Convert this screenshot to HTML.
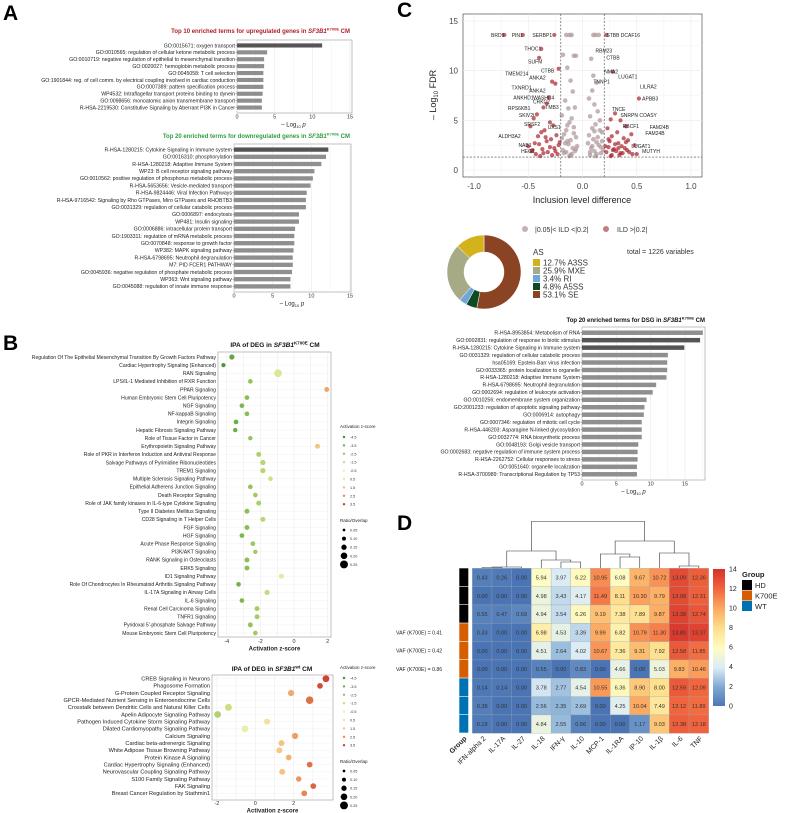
<!DOCTYPE html>
<html><head><meta charset="utf-8">
<style>
html,body{margin:0;padding:0;background:#fff;}
svg{display:block;font-family:"Liberation Sans",Arial,sans-serif;}
</style></head>
<body>
<svg id="fig" width="790" height="813" viewBox="0 0 790 813" xmlns="http://www.w3.org/2000/svg">
<rect width="790" height="813" fill="#fff"/>
<text x="3" y="20" font-size="21" font-weight="bold">A</text>
<text x="3" y="350" font-size="21" font-weight="bold">B</text>
<text x="397" y="17" font-size="21" font-weight="bold">C</text>
<text x="397" y="530" font-size="21" font-weight="bold">D</text>

<text x="350" y="33" font-size="6" font-weight="bold" fill="#b0202a" text-anchor="end">Top 10 enriched terms for upregulated genes in <tspan font-style="italic">SF3B1</tspan><tspan font-size="4" dy="-2.5">K700E</tspan><tspan dy="2.5"> CM</tspan></text>
<text x="350" y="138" font-size="6" font-weight="bold" fill="#2e9e3e" text-anchor="end">Top 20 enriched terms for downregulated genes in <tspan font-style="italic">SF3B1</tspan><tspan font-size="4" dy="-2.5">K700E</tspan><tspan dy="2.5"> CM</tspan></text>
<text x="705" y="322" font-size="6" font-weight="bold" fill="#111" text-anchor="end">Top 20 enriched terms for DSG in <tspan font-style="italic">SF3B1</tspan><tspan font-size="4" dy="-2.5">K700E</tspan><tspan dy="2.5"> CM</tspan></text>
<text x="275" y="347" font-size="6.5" font-weight="bold" fill="#111" text-anchor="middle">IPA of DEG in <tspan font-style="italic">SF3B1</tspan><tspan font-size="4.5" dy="-2.5">K700E</tspan><tspan dy="2.5"> CM</tspan></text>
<text x="272" y="671" font-size="6.5" font-weight="bold" fill="#111" text-anchor="middle">IPA of DEG in <tspan font-style="italic">SF3B1</tspan><tspan font-size="4.5" dy="-2.5">wt</tspan><tspan dy="2.5"> CM</tspan></text>
<g id="root"></g>
</svg>
<script>
// ---------- DATA ----------
const a1Labels=["GO:0015671: oxygen transport","GO:0010565: regulation of cellular ketone metabolic process","GO:0010719: negative regulation of epithelial to mesenchymal transition","GO:0020027: hemoglobin metabolic process","GO:0045058: T cell selection","GO:1901844: reg. of cell comm. by electrical coupling involved in cardiac conduction","GO:0007389: pattern specification process","WP4532: Intraflagellar transport proteins binding to dynein","GO:0098656: monoatomic anion transmembrane transport","R-HSA-2219530: Constitutive Signaling by Aberrant PI3K in Cancer"];
const a1Values=[11.3,4.0,3.6,3.6,3.5,3.5,3.5,3.4,3.3,3.3];
const a2Labels=["R-HSA-1280215: Cytokine Signaling in Immune system","GO:0016310: phosphorylation","R-HSA-1280218: Adaptive Immune System","WP23: B cell receptor signaling pathway","GO:0010562: positive regulation of phosphorus metabolic process","R-HSA-5653656: Vesicle-mediated transport","R-HSA-9824446: Viral Infection Pathways","R-HSA-9716542: Signaling by Rho GTPases, Miro GTPases and RHOBTB3","GO:0031329: regulation of cellular catabolic process","GO:0006897: endocytosis","WP481: Insulin signaling","GO:0006886: intracellular protein transport","GO:1903311: regulation of mRNA metabolic process","GO:0070848: response to growth factor","WP382: MAPK signaling pathway","R-HSA-6798695: Neutrophil degranulation","M7: PID FCER1 PATHWAY","GO:0045936: negative regulation of phosphate metabolic process","WP363: Wnt signaling pathway","GO:0045088: regulation of innate immune response"];
const a2Values=[12.2,11.9,11.3,10.4,10.2,9.9,9.4,9.3,9.3,8.4,8.4,7.9,7.8,7.8,7.7,7.6,7.6,7.5,7.3,7.3];
const cbLabels=["R-HSA-8953854: Metabolism of RNA","GO:0002831: regulation of response to biotic stimulus","R-HSA-1280215: Cytokine Signaling in Immune system","GO:0031329: regulation of cellular catabolic process","hsa05169: Epstein-Barr virus infection","GO:0033365: protein localization to organelle","R-HSA-1280218: Adaptive Immune System","R-HSA-6798695: Neutrophil degranulation","GO:0002694: regulation of leukocyte activation","GO:0010256: endomembrane system organization","GO:2001233: regulation of apoptotic signaling pathway","GO:0006914: autophagy","GO:0007346: regulation of mitotic cell cycle","R-HSA-446203: Asparagine N-linked glycosylation","GO:0032774: RNA biosynthetic process","GO:0048193: Golgi vesicle transport","GO:0002683: negative regulation of immune system process","R-HSA-2262752: Cellular responses to stress","GO:0051640: organelle localization","R-HSA-3700989: Transcriptional Regulation by TP53"];
const cbValues=[17.6,17.2,14.9,12.5,12.4,12.4,12.3,10.8,10.3,9.4,9.1,9.0,8.7,8.7,8.7,8.2,8.1,8.1,8.0,8.0];
const xTicks=[0,5,10,15];

const b1Labels=["Regulation Of The Epithelial Mesenchymal Transition By Growth Factors Pathway","Cardiac Hypertrophy Signaling (Enhanced)","RAN Signaling","LPS/IL-1 Mediated Inhibition of RXR Function","PPAR Signaling","Human Embryonic Stem Cell Pluripotency","NGF Signaling","NF-kappaB Signaling","Integrin Signaling","Hepatic Fibrosis Signaling Pathway","Role of Tissue Factor in Cancer","Erythropoietin Signaling Pathway","Role of PKR in Interferon Induction and Antiviral Response","Salvage Pathways of Pyrimidine Ribonucleotides","TREM1 Signaling","Multiple Sclerosis Signaling Pathway","Epithelial Adherens Junction Signaling","Death Receptor Signaling","Role of JAK family kinases in IL-6-type Cytokine Signaling","Type II Diabetes Mellitus Signaling","CD28 Signaling in T Helper Cells","FGF Signaling","HGF Signaling","Acute Phase Response Signaling","PI3K/AKT Signaling","RANK Signaling in Osteoclasts","ERK5 Signaling","ID1 Signaling Pathway","Role Of Chondrocytes In Rheumatoid Arthritis Signaling Pathway","IL-17A Signaling in Airway Cells","IL-6 Signaling","Renal Cell Carcinoma Signaling","TNFR1 Signaling","Pyridoxal 5'-phosphate Salvage Pathway","Mouse Embryonic Stem Cell Pluripotency"];
const b1Z=[-3.7,-4.2,-0.95,-2.6,1.95,-2.8,-3.1,-2.8,-3.45,-3.5,-2.6,1.4,-2.1,-1.85,-1.85,-1.4,-2.6,-2.3,-2.1,-2.8,-1.85,-2.8,-3.1,-2.45,-2.3,-2.8,-2.8,-0.75,-3.3,-1.6,-3.1,-2.2,-2.2,-2.6,-2.3];
const b1Ratio=[0.10,0.06,0.20,0.08,0.09,0.08,0.08,0.08,0.08,0.07,0.07,0.09,0.09,0.10,0.10,0.08,0.08,0.08,0.09,0.09,0.09,0.09,0.08,0.08,0.07,0.09,0.09,0.10,0.08,0.10,0.08,0.09,0.09,0.09,0.08];
const b2Labels=["CREB Signaling in Neurons","Phagosome Formation","G-Protein Coupled Receptor Signaling","GPCR-Mediated Nutrient Sensing in Enteroendocrine Cells","Crosstalk between Dendritic Cells and Natural Killer Cells","Apelin Adipocyte Signaling Pathway","Pathogen Induced Cytokine Storm Signaling Pathway","Dilated Cardiomyopathy Signaling Pathway","Calcium Signaling","Cardiac beta-adrenergic Signaling","White Adipose Tissue Browning Pathway","Protein Kinase A Signaling","Cardiac Hypertrophy Signaling (Enhanced)","Neurovascular Coupling Signaling Pathway","S100 Family Signaling Pathway","FAK Signaling","Breast Cancer Regulation by Stathmin1"];
const b2Z=[3.68,3.37,1.86,2.83,-1.4,-1.96,0.61,-0.54,2.07,1.36,1.25,1.74,2.83,1.4,2.26,3.02,2.55];
const b2Ratio=[0.16,0.12,0.14,0.19,0.17,0.16,0.13,0.16,0.14,0.13,0.13,0.12,0.12,0.13,0.11,0.12,0.12];
const zLegend=[-4.5,-3.5,-2.5,-1.5,-0.5,0.5,1.5,2.5,3.5];
const ratioLegend=[0.05,0.10,0.15,0.20,0.25];

const volGrayX=[-0.15,-0.12,-0.1,-0.08,-0.18,-0.06,-0.14,-0.11,-0.09,-0.16,-0.07,-0.13,-0.19,-0.1,-0.12,-0.08,-0.15,-0.17,-0.06,-0.11,-0.13,-0.09,-0.07,-0.1,-0.12,-0.14,-0.05,-0.18,-0.16,-0.19,-0.08,-0.14,-0.17,-0.11,-0.06,-0.15,0.1,0.12,0.15,0.08,0.1,0.13,0.09,0.06,0.11,0.14,0.07,0.16,0.12,0.09,0.18,0.06,0.1,0.13,0.15,0.08,0.11,0.17,0.07,0.12,0.05,0.19,0.14,0.16,0.09,0.18,0.07,0.13,0.11,0.17];
const volGrayY=[13.6,13.6,13.6,11.5,11.6,11.5,10.3,9.0,7.9,7.0,6.3,6.2,5.5,5.2,4.8,4.3,4.0,3.6,3.3,3.0,2.6,2.2,1.9,1.6,1.4,2.9,2.4,2.0,2.7,3.2,3.7,4.5,1.7,1.5,2.1,1.8,13.6,13.6,13.6,11.2,9.5,8.8,8.0,7.2,6.6,5.9,5.4,5.0,4.6,4.2,3.8,3.5,3.1,2.8,2.5,2.2,1.9,1.7,1.5,1.4,2.7,2.0,3.3,4.0,2.4,2.9,1.8,1.6,3.9,2.3];
const volRedX=[-0.72,-0.55,-0.26,-0.38,-0.4,-0.22,-0.28,-0.25,-0.31,-0.33,-0.36,-0.42,-0.45,-0.48,-0.3,-0.27,-0.35,-0.38,-0.41,-0.24,-0.29,-0.33,-0.44,-0.5,-0.22,-0.26,-0.37,-0.47,-0.32,-0.23,-0.28,-0.4,-0.34,-0.25,-0.43,-0.21,-0.3,-0.36,-0.46,-0.39,0.22,0.28,0.52,0.3,0.26,0.35,0.4,0.23,0.45,0.32,0.27,0.38,0.42,0.25,0.33,0.48,0.36,0.24,0.29,0.41,0.31,0.22,0.37,0.46,0.27,0.34,0.39,0.24,0.3,0.43,0.26,0.35,0.5,0.21,0.28,0.33,0.4];
const volRedY=[13.6,13.6,13.6,12.2,11.3,10.2,8.9,8.7,7.3,6.7,6.3,5.6,5.2,4.4,4.8,4.5,4.0,3.8,3.4,3.5,3.1,2.9,2.7,2.4,2.5,2.2,2.1,1.9,1.8,1.6,1.5,2.6,3.3,1.9,1.6,2.8,2.3,1.7,2.0,1.4,13.6,9.9,7.2,5.7,5.1,5.0,4.4,4.2,3.6,3.8,3.4,3.2,3.0,2.9,2.7,2.5,2.4,2.3,2.1,2.0,1.9,1.8,1.7,1.6,1.5,1.5,2.2,3.1,2.6,1.8,1.4,1.7,1.6,2.4,2.0,2.2,2.8];
const volXTicks=[-1.0,-0.5,0.0,0.5,1.0];
const volYTicks=[0,5,10,15];
const volLabelText=["BRD9","PIN1","SERBP1","STBB DCAF16","THOC1","RBM23","CTBB","SUFM","TMEM214","ANKA2","CTBB","NMA2","LUGAT1","TNNP1","LILRA2","TXNRD1","ANKA2","ANKHD1","WASHC4","CRKC2","APBB3","TMB3","RPS6KB1","TNCE","SKIV2L","SNRPN COASY","SRSF2","UXS1","RBCF1","FAM24B","FAM24B","ALDH3A2","NAB1","LUGAT1","HEG1","MUTYH"];
const volLabelX=[-0.72,-0.55,-0.28,0.22,-0.38,0.12,0.22,-0.37,-0.5,-0.34,-0.26,0.2,0.33,0.1,0.53,-0.47,-0.34,-0.45,-0.26,-0.3,0.55,-0.22,-0.48,0.27,-0.43,0.35,-0.39,-0.2,0.37,0.62,0.58,-0.57,-0.47,0.45,-0.44,0.55];
const volLabelY=[13.6,13.6,13.6,13.6,12.2,12.0,11.3,10.9,9.7,9.3,10.0,9.9,9.4,8.9,8.4,8.3,8.0,7.3,7.3,6.9,7.2,6.3,6.2,6.1,5.5,5.5,4.6,4.3,4.4,4.3,3.7,3.4,2.5,2.4,1.9,1.9];

const asPct=[53.1,4.8,3.4,25.9,12.7];
const asNames=["SE","A5SS","RI","MXE","A3SS"];

const hmCols=["IFN-alpha 2","IL-17A","IL-27","IL-18","IFN-γ","IL-10","MCP-1","IL-1RA","IP-10","IL-1β","IL-6","TNF"];
const hmGroups=["HD","HD","HD","K700E","K700E","K700E","WT","WT","WT"];
const hmRow1=[0.43,0.26,0.00,5.94,3.97,6.22,10.95,6.08,9.67,10.72,13.09,12.36];
const hmRow2=[0.00,0.00,0.00,4.98,3.43,4.17,11.49,8.11,10.30,9.79,13.08,12.31];
const hmRow3=[0.55,0.47,0.69,4.94,3.54,6.26,9.19,7.38,7.89,9.87,13.38,12.74];
const hmRow4=[0.33,0.00,0.00,6.98,4.53,3.39,9.99,6.82,10.79,11.30,13.80,13.37];
const hmRow5=[0.00,0.00,0.00,4.51,2.64,4.02,10.67,7.36,9.31,7.92,12.58,11.85];
const hmRow6=[0.00,0.00,0.00,0.55,0.00,0.83,0.00,4.66,0.00,5.03,9.83,10.46];
const hmRow7=[0.14,0.14,0.00,3.78,2.77,4.54,10.55,6.36,8.90,8.00,12.59,12.09];
const hmRow8=[0.38,0.00,0.00,2.56,2.35,2.69,0.00,4.25,10.04,7.49,12.12,11.89];
const hmRow9=[0.19,0.00,0.00,4.84,2.55,0.56,0.00,0.00,1.17,9.03,12.38,12.18];
const hmVafLabels=["VAF (K700E) = 0.41","VAF (K700E) = 0.42","VAF (K700E) = 0.86"];
const cbarTicks=[0,2,4,6,8,10,12,14];

// ---------- HELPERS ----------
const NS="http://www.w3.org/2000/svg";
const root=document.getElementById('root');
function mk(tag,attrs,parent){const e=document.createElementNS(NS,tag);for(const k in attrs)e.setAttribute(k,attrs[k]);(parent||root).appendChild(e);return e;}
function lerpColor(stops,v){
  if(v<=stops[0][0])return stops[0][1];
  for(let i=1;i<stops.length;i++){if(v<=stops[i][0]){const [a,ca]=stops[i-1],[b,cb]=stops[i];const t=(v-a)/(b-a);
    const p=h=>[1,3,5].map(j=>parseInt(h.substr(j,2),16));const A=p(ca),B=p(cb);
    return 'rgb('+A.map((x,k)=>Math.round(x+(B[k]-x)*t)).join(',')+')';}}
  return stops[stops.length-1][1];}
const zStops=[[-4.5,"#3f8f34"],[-3.5,"#6aae45"],[-2.5,"#97c65a"],[-1.5,"#c6de7e"],[-0.5,"#ecf0a8"],[0.5,"#f6e4a4"],[1.5,"#f2c07a"],[2.5,"#e88752"],[3.5,"#cf4431"]];
const hmStops=[[0,"#4a74b4"],[2,"#7ea8d2"],[4,"#dcecf4"],[6,"#fefcc4"],[8,"#fee08e"],[10,"#fcab62"],[12,"#f2683f"],[14,"#d7342b"]];

// ---------- BAR CHARTS ----------
function barChart(labels,values,darkN,bx0,bx1,by0,by1,zeroX,px15,tickY,prefix){
  const sx=v=>zeroX+(px15-zeroX)*v/15;
  const box=mk('rect',{x:bx0,y:by0,width:bx1-bx0,height:by1-by0,fill:'#fff',stroke:'#999','stroke-width':0.6});
  
  
  for(let t=0;t<=17.5;t+=2.5){const x=sx(t);if(x>bx1)break;const g=mk('line',{x1:x,x2:x,y1:by0,y2:by1,stroke:t%5===0?'#e4e4e4':'#f0f0f0','stroke-width':0.5});
    
    }
  const n=labels.length,band=(by1-by0-4)/n;
  labels.forEach((lab,i)=>{
    const cy=by0+2+band*(i+0.5);
    const r=mk('rect',{x:zeroX,y:cy-band*0.3,width:sx(values[i])-zeroX,height:band*0.6,fill:i<darkN[1]&&i>=darkN[0]?'#555':'#8f8f8f'});
    
    
    const t=mk('text',{x:bx0-2,y:cy+1.8,'font-size':5.2,'text-anchor':'end',fill:'#222'});t.textContent=lab;
    
    
    const tk=mk('line',{x1:bx0-1.5,x2:bx0,y1:cy,y2:cy,stroke:'#555','stroke-width':0.4});
    
    
  });
  xTicks.forEach(v=>{const t=mk('text',{x:sx(v),y:tickY,'font-size':5.5,'text-anchor':'middle',fill:'#333'});t.textContent=v;
    
    });
  const at=mk('text',{x:(zeroX+px15)/2,y:tickY+8,'font-size':6,'text-anchor':'middle',fill:'#222'});
  at.innerHTML='– Log<tspan font-size="4" dy="1.5">10</tspan><tspan dy="-1.5" font-style="italic"> p</tspan>';
  
  
}
barChart(a1Labels,a1Values,[0,1],237,352,40,113,237,350,118.5,'a1');
barChart(a2Labels,a2Values,[0,1],234,351,144,292,234,350,297.5,'a2');
barChart(cbLabels,cbValues,[1,3],582,705,327,480,582,685,485.5,'c-dsg');

// ---------- DOT PLOTS ----------
function dotPlot(labels,z,ratio,bx0,bx1,by0,by1,zeroX,pxPerUnit,ticks,firstY,lastY,tickY,prefix){
  const sx=v=>zeroX+pxPerUnit*v;
  const box=mk('rect',{x:bx0,y:by0,width:bx1-bx0,height:by1-by0,fill:'#fff',stroke:'#999','stroke-width':0.6});
  
  
  const n=labels.length,step=(lastY-firstY)/(n-1);
  labels.forEach((l,i)=>{const y=firstY+step*i;const g=mk('line',{x1:bx0,x2:bx1,y1:y,y2:y,stroke:'#eee','stroke-width':0.4});
    
    });
  for(let v=ticks[0]-1;v<=ticks[ticks.length-1]+1;v+=1){const x=sx(v);if(x<bx0||x>bx1)continue;const g=mk('line',{x1:x,x2:x,y1:by0,y2:by1,stroke:'#e8e8e8','stroke-width':0.5});
    
    }
  labels.forEach((l,i)=>{
    const y=firstY+step*i;
    const c=mk('circle',{cx:sx(z[i]),cy:y,r:1.3+ratio[i]*13,fill:lerpColor(zStops,z[i])});
    
    
    const t=mk('text',{x:bx0-2,y:y+1.8,'font-size':prefix==='b1'?5.1:5.6,'text-anchor':'end',fill:'#222'});t.textContent=l;
    
    
  });
  ticks.forEach(v=>{const t=mk('text',{x:sx(v),y:tickY,'font-size':5.5,'text-anchor':'middle',fill:'#333'});t.textContent=v;
    
    });
  const at=mk('text',{x:(bx0+bx1)/2,y:tickY+7.5,'font-size':6,'font-weight':'bold','text-anchor':'middle',fill:'#222'});at.textContent='Activation z-score';
  
  
}
dotPlot(b1Labels,b1Z,b1Ratio,218,331,352,637,294,16.8,[-4,-2,0,2],357,633,643,'b1');
dotPlot(b2Labels,b2Z,b2Ratio,212,333,675,800,255.3,19.2,[-2,0,2],678.7,793.3,805,'b2');

function dotLegend(x,y0,prefix){
  const t=mk('text',{x:x,y:y0,'font-size':4.5,fill:'#222'});t.textContent='Activation z-score';
  
  
  zLegend.forEach((v,i)=>{const y=y0+9+8.4*i;const c=mk('circle',{cx:x+4,cy:y,r:1.2,fill:lerpColor(zStops,v)});
    
    
    const l=mk('text',{x:x+10,y:y+1.5,'font-size':3.8,fill:'#333'});l.textContent=v;
    
    });
  const y1=y0+94;
  const t2=mk('text',{x:x,y:y1,'font-size':4.5,fill:'#222'});t2.textContent='Ratio/Overlap';
  
  
  ratioLegend.forEach((v,i)=>{const y=y1+8+8.6*i;const c=mk('circle',{cx:x+4,cy:y,r:0.7+v*13,fill:'#000'});
    
    
    const l=mk('text',{x:x+10,y:y+1.5,'font-size':3.8,fill:'#333'});l.textContent=v.toFixed(2);
    
    });
}
dotLegend(340,428,'b1');
dotLegend(340,669,'b2');

// ---------- VOLCANO ----------
(function(){
  const X0=582.5,KX=108.5,Y0=170,KY=9.93;
  const sx=v=>X0+KX*v, sy=v=>Y0-KY*v;
  const box=mk('rect',{x:463,y:14,width:239,height:163,fill:'#fff',stroke:'#333','stroke-width':0.6});
  
  
  for(let v=-1;v<=1.001;v+=0.25){const g=mk('line',{x1:sx(v),x2:sx(v),y1:14,y2:177,stroke:'#ebebeb','stroke-width':Math.abs(v*2%1)<0.01?0.6:0.35});
    
    }
  for(let v=0;v<=15;v+=2.5){const g=mk('line',{x1:463,x2:702,y1:sy(v),y2:sy(v),stroke:'#ebebeb','stroke-width':v%5===0?0.6:0.35});
    
    }
  volGrayX.forEach((x,i)=>{const c=mk('circle',{cx:sx(x),cy:sy(volGrayY[i]),r:2.3,fill:'#b19a9c','fill-opacity':0.75});
    
    });
  volRedX.forEach((x,i)=>{const c=mk('circle',{cx:sx(x),cy:sy(volRedY[i]),r:2.1,fill:'#a8222e','fill-opacity':0.7});
    
    });
  [-0.2,0.2].forEach(v=>{const l=mk('line',{x1:sx(v),x2:sx(v),y1:14,y2:177,stroke:'#444','stroke-width':0.6,'stroke-dasharray':'2,1.5'});
    
    });
  const h=mk('line',{x1:463,x2:702,y1:sy(1.3),y2:sy(1.3),stroke:'#444','stroke-width':0.6,'stroke-dasharray':'2,1.5'});
  
  
  volLabelText.forEach((s,i)=>{const t=mk('text',{x:sx(volLabelX[i]),y:sy(volLabelY[i])+1.8,'font-size':5,'text-anchor':volLabelX[i]<0?'end':'start',fill:'#222'});t.textContent=s;
    
    });
  volXTicks.forEach(v=>{const t=mk('text',{x:sx(v),y:189,'font-size':8,'text-anchor':'middle',fill:'#444'});t.textContent=v.toFixed(1);
    
    });
  volYTicks.forEach(v=>{const t=mk('text',{x:458,y:sy(v)+3,'font-size':8,'text-anchor':'end',fill:'#444'});t.textContent=v;
    
    });
  const xt=mk('text',{x:582,y:203,'font-size':9,'text-anchor':'middle',fill:'#222'});xt.textContent='Inclusion level difference';
  
  
  const yt=mk('text',{x:0,y:0,'font-size':9,'text-anchor':'middle',fill:'#222',transform:'translate(436,95) rotate(-90)'});
  yt.innerHTML='– Log<tspan font-size="6" dy="2">10</tspan><tspan dy="-2"> FDR</tspan>';
  
  
  const c1=mk('circle',{cx:525,cy:229,r:3,fill:'#c4b3b5'});
  
  
  const t1=mk('text',{x:535,y:232,'font-size':7,fill:'#333'});t1.textContent='|0.05|< ILD <|0.2|';
  
  
  const c2=mk('circle',{cx:606,cy:229,r:3,fill:'#c57b80'});
  
  
  const t2=mk('text',{x:617,y:232,'font-size':7,fill:'#333'});t2.textContent='ILD >|0.2|';
  
  
})();

// ---------- DONUT ----------
(function(){
  const cx=484,cy=272,R=37,r=20;
  const cols={SE:'#8a4424',A5SS:'#0e4a22',RI:'#6fa8d8',MXE:'#a7ab85',A3SS:'#d4b21c'};
  const total=asPct.reduce((a,b)=>a+b,0);let a0=-Math.PI/2;
  asPct.forEach((p,i)=>{
    const a1=a0+2*Math.PI*p/total;const large=(a1-a0)>Math.PI?1:0;
    const P=(rad,a)=>[cx+rad*Math.cos(a),cy+rad*Math.sin(a)];
    const [x1,y1]=P(R,a0),[x2,y2]=P(R,a1),[x3,y3]=P(r,a1),[x4,y4]=P(r,a0);
    const s=mk('path',{d:`M${x1},${y1}A${R},${R} 0 ${large} 1 ${x2},${y2}L${x3},${y3}A${r},${r} 0 ${large} 0 ${x4},${y4}Z`,fill:cols[asNames[i]],stroke:'#fff','stroke-width':0.5});
    
    
    a0=a1;});
  const lt=mk('text',{x:533,y:255,'font-size':8,fill:'#333'});lt.textContent='AS';
  
  
  const order=[4,3,2,1,0];
  order.forEach((k,j)=>{const y=259+8*j;
    const sw=mk('rect',{x:533,y:y,width:7,height:7,fill:cols[asNames[k]]});
    
    
    const t=mk('text',{x:543,y:y+6.5,'font-size':8,fill:'#333'});t.textContent=asPct[k].toFixed(1)+'% '+asNames[k];
    
    });
  const tot=mk('text',{x:627,y:254,'font-size':7,fill:'#333'});tot.textContent='total = 1226 variables';
  
  
})();

// ---------- HEATMAP ----------
(function(){
  const rows=[hmRow1,hmRow2,hmRow3,hmRow4,hmRow5,hmRow6,hmRow7,hmRow8,hmRow9];
  const X0=472.3,CW=19.7,Y0=568.3,RH=18.33;
  const gcol={HD:'#000',K700E:'#d55e00',WT:'#0072b2'};
  rows.forEach((row,ri)=>{
    const g=mk('rect',{x:459.3,y:Y0+RH*ri,width:9,height:RH-0.6,fill:gcol[hmGroups[ri]]});
    
    
    row.forEach((v,ci)=>{
      const c=mk('rect',{x:X0+CW*ci,y:Y0+RH*ri,width:CW,height:RH,fill:lerpColor(hmStops,v),stroke:'#9aa3ad','stroke-width':0.3});
      
      
      const t=mk('text',{x:X0+CW*ci+CW/2,y:Y0+RH*ri+RH/2+2,'font-size':5.6,'text-anchor':'middle',fill:'#333'});t.textContent=v.toFixed(2);
      
      
    });
  });
  hmVafLabels.forEach((s,i)=>{const t=mk('text',{x:396,y:Y0+RH*(3+i)+RH/2+1.8,'font-size':5.2,fill:'#222'});t.textContent=s;
    
    });
  const cxs=i=>X0+CW*(i+0.5);
  hmCols.forEach((s,i)=>{const t=mk('text',{x:0,y:0,'font-size':7,'text-anchor':'end',fill:'#222',transform:`translate(${cxs(i)+4},${739}) rotate(-45)`});t.textContent=s;
    
    });
  const gt=mk('text',{x:0,y:0,'font-size':7,'font-weight':'bold','text-anchor':'end',fill:'#222',transform:`translate(467,739) rotate(-45)`});gt.textContent='Group';
  
  
  // dendrogram
  const seg=(x1,y1,x2,y2)=>{const l=mk('path',{d:`M${x1},${y1}V${y2===undefined?y1:y2}`,stroke:'#333','stroke-width':0.6,fill:'none'});return l;};
  const U=(xa,ya,xb,yb,h)=>{const p=mk('path',{d:`M${xa},${ya}V${h}H${xb}V${yb}`,stroke:'#333','stroke-width':0.6,fill:'none'});
    
    };
  const base=568;
  U(cxs(0),base,cxs(1),base,567.5); U((cxs(0)+cxs(1))/2,567.5,cxs(2),base,567);
  const m1=(cxs(0)+cxs(1))/2/2+cxs(2)/2;
  U(cxs(4),base,cxs(5),base,562); const m2=(cxs(4)+cxs(5))/2;
  U(cxs(3),base,m2,562,560); const m3=(cxs(3)+m2)/2;
  U(m1,567,m3,560,551); const mL=(m1+m3)/2;
  U(cxs(7),base,cxs(8),base,557); const m4=(cxs(7)+cxs(8))/2;
  U(cxs(6),base,m4,557,554); const m5=(cxs(6)+m4)/2;
  U(cxs(10),base,cxs(11),base,566); const m6=(cxs(10)+cxs(11))/2;
  U(cxs(9),base,m6,566,553); const m7=(cxs(9)+m6)/2;
  U(m5,554,m7,553,541); const mR=(m5+m7)/2;
  U(mL,551,mR,541,521.5);
  // colorbar
  const cb0=569,cb1=705.7;
  for(let i=0;i<60;i++){const v=14-14*i/60;const r=mk('rect',{x:713,y:cb0+(cb1-cb0)*i/60,width:12,height:(cb1-cb0)/60+0.3,fill:lerpColor(hmStops,v)});
    
    }
  cbarTicks.forEach(v=>{const y=cb1-(cb1-cb0)*v/14;const t=mk('text',{x:729,y:y+2.6,'font-size':7,fill:'#222'});t.textContent=v;
    
    });
  const gl=mk('text',{x:742,y:577,'font-size':7.5,'font-weight':'bold',fill:'#222'});gl.textContent='Group';
  
  
  ["HD","K700E","WT"].forEach((g,i)=>{const y=580+10.5*i;
    const s=mk('rect',{x:742,y:y,width:10,height:10,fill:gcol[g]});
    
    
    const t=mk('text',{x:755,y:y+8,'font-size':7.5,fill:'#222'});t.textContent=g;
    
    });
})();
</script>
</body></html>
